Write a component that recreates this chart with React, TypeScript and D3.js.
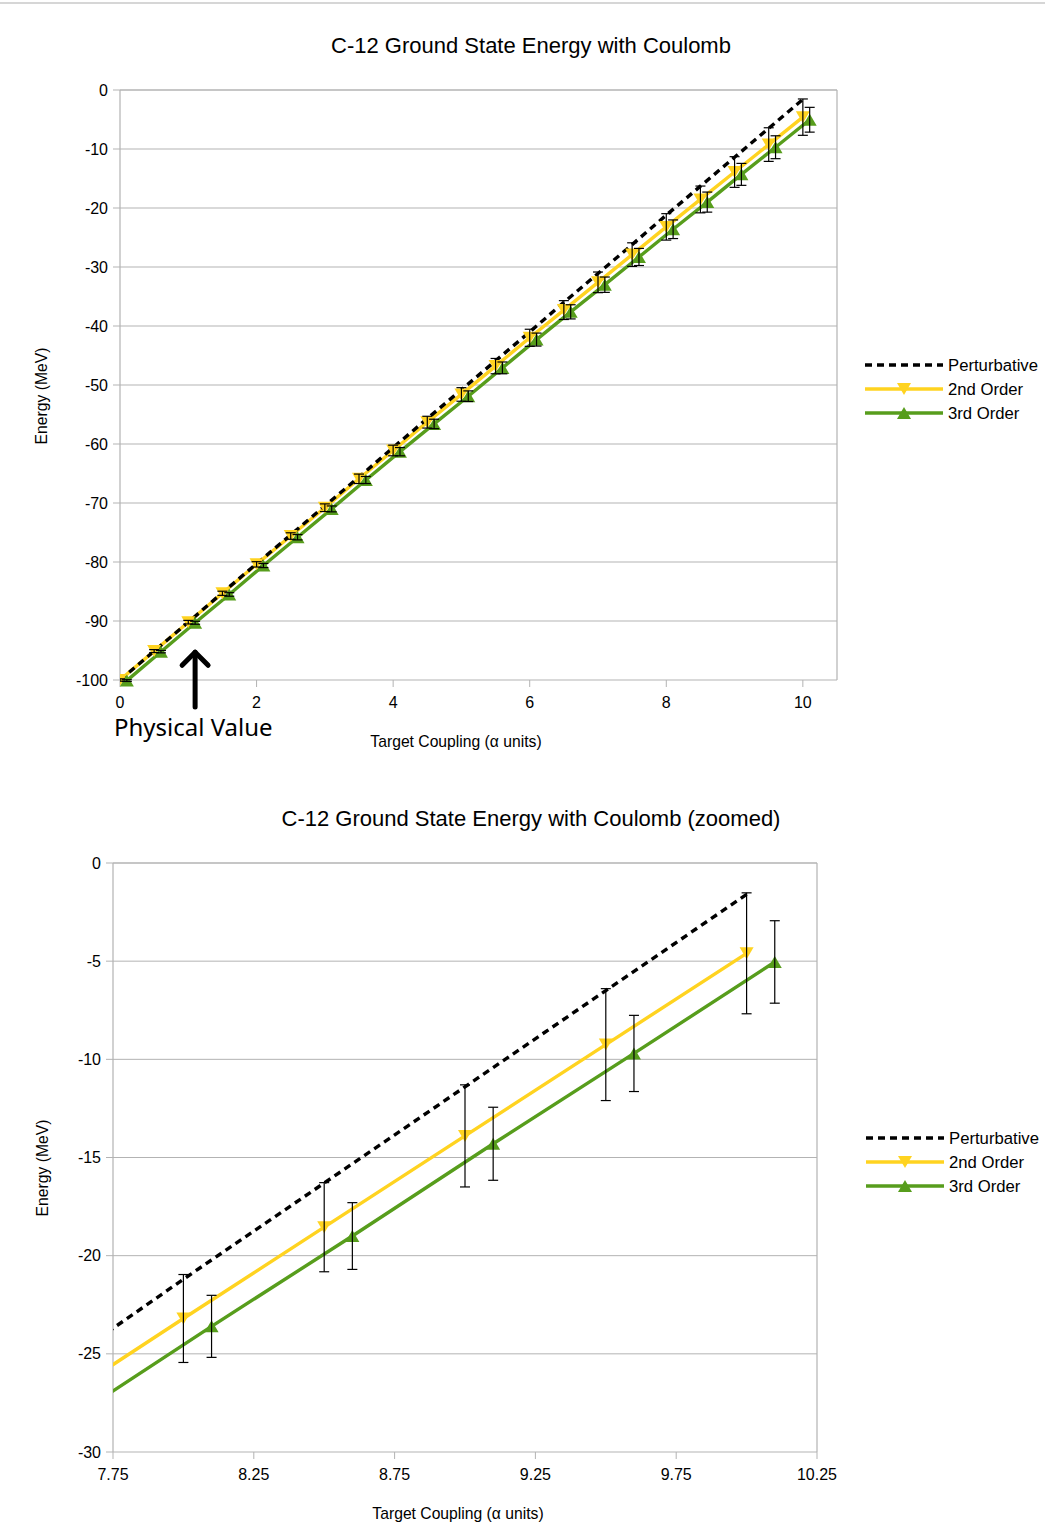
import React from "react";
import * as d3 from "d3";

// ---- data ----
const couplings = [0, 0.5, 1, 1.5, 2, 2.5, 3, 3.5, 4, 4.5, 5, 5.5, 6, 6.5, 7, 7.5, 8, 8.5, 9, 9.5, 10];
const couplings3 = [0.1, 0.6, 1.1, 1.6, 2.1, 2.6, 3.1, 3.6, 4.1, 4.6, 5.1, 5.6, 6.1, 6.6, 7.1, 7.6, 8.1, 8.6, 9.1, 9.6, 10.1];
const perturbative = [-100, -95.1, -90.2, -85.2, -80.3, -75.4, -70.5, -65.6, -60.6, -55.7, -50.8, -45.9, -41.0, -36.0, -31.1, -26.2, -21.2, -16.3, -11.4, -6.5, -1.6];
const secondOrder = [-100, -95.1, -90.2, -85.3, -80.4, -75.6, -70.8, -65.9, -61.1, -56.3, -51.6, -46.8, -42.0, -37.3, -32.6, -27.9, -23.2, -18.55, -13.9, -9.25, -4.6];
const secondErr = [0.2, 0.25, 0.3, 0.35, 0.45, 0.55, 0.65, 0.8, 0.9, 1.0, 1.15, 1.3, 1.45, 1.6, 1.75, 2.0, 2.24, 2.27, 2.6, 2.85, 3.08];
const thirdOrder = [-100.1, -95.2, -90.3, -85.5, -80.6, -75.8, -71.0, -66.1, -61.3, -56.6, -51.9, -47.1, -42.3, -37.6, -33.0, -28.3, -23.6, -19.0, -14.3, -9.7, -5.04];
const thirdErr = [0.15, 0.2, 0.25, 0.3, 0.35, 0.45, 0.5, 0.6, 0.7, 0.8, 0.9, 1.0, 1.1, 1.2, 1.3, 1.45, 1.58, 1.7, 1.86, 1.94, 2.1];

const topXTicks = [0, 2, 4, 6, 8, 10];
const topYTicks = [0, -10, -20, -30, -40, -50, -60, -70, -80, -90, -100];
const zoomXTicks = [7.75, 8.25, 8.75, 9.25, 9.75, 10.25];
const zoomYTicks = [0, -5, -10, -15, -20, -25, -30];

const seriesNames = ["Perturbative", "2nd Order", "3rd Order"];
const physicalValue = 1.1;

const YELLOW = "#ffd320";
const GREEN = "#579d1c";
const GRID = "#b3b3b3";
const FONT = "'Liberation Sans', Arial, sans-serif";

type ChartProps = {
  id: string;
  title: string;
  titleY: number;
  left: number; right: number; top: number; bottom: number;
  xDomain: [number, number];
  yDomain: [number, number];
  xTicks: number[];
  yTicks: number[];
  xFmt: (v: number) => string;
  xTitleX: number;
  yTitleX: number;
  yTitleY: number;
  legendX: number;
  legendY: number;
  annotate?: boolean;
};

function Triangle({ x, y, up, color }: { x: number; y: number; up: boolean; color: string }) {
  const w = 7, h = 6;
  const d = up
    ? `M${x - w},${y + h}L${x + w},${y + h}L${x},${y - h}Z`
    : `M${x - w},${y - h}L${x + w},${y - h}L${x},${y + h}Z`;
  return <path d={d} fill={color} />;
}

function Chart(p: ChartProps) {
  const x = d3.scaleLinear().domain(p.xDomain).range([p.left, p.right]);
  const y = d3.scaleLinear().domain(p.yDomain).range([p.bottom, p.top]);
  const pertPts = couplings.map((c, i) => [c, perturbative[i]] as [number, number]);
  const secPts = couplings.map((c, i) => [c, secondOrder[i]] as [number, number]);
  const thiPts = couplings3.map((c, i) => [c, thirdOrder[i]] as [number, number]);
  const line = d3.line<[number, number]>().x((d) => x(d[0])).y((d) => y(d[1]));
  const inX = (v: number) => v >= p.xDomain[0] - 1e-9 && v <= p.xDomain[1] + 1e-9;
  const clipId = `clip-${p.id}`;
  const cap = 5;

  const errBars = (xs: number[], vals: number[], errs: number[], key: string) =>
    xs.map((c, i) =>
      inX(c) ? (
        <g key={`${key}${i}`} stroke="#000" strokeWidth={1.2}>
          <line x1={x(c)} x2={x(c)} y1={y(vals[i] + errs[i])} y2={y(vals[i] - errs[i])} />
          <line x1={x(c) - cap} x2={x(c) + cap} y1={y(vals[i] + errs[i])} y2={y(vals[i] + errs[i])} />
          <line x1={x(c) - cap} x2={x(c) + cap} y1={y(vals[i] - errs[i])} y2={y(vals[i] - errs[i])} />
        </g>
      ) : null
    );

  return (
    <g>
      <defs>
        <clipPath id={clipId}>
          <rect x={p.left} y={p.top - 20} width={p.right - p.left} height={p.bottom - p.top + 40} />
        </clipPath>
      </defs>
      <text x={531} y={p.titleY} textAnchor="middle" fontFamily={FONT} fontSize={22} fill="#000">
        {p.title}
      </text>
      {/* grid */}
      {p.yTicks.map((t) => (
        <g key={`yt${t}`}>
          <line x1={p.left - 7} x2={p.right} y1={y(t)} y2={y(t)} stroke={GRID} strokeWidth={1} />
          <text x={p.left - 12} y={y(t)} dy="0.35em" textAnchor="end" fontFamily={FONT} fontSize={16} fill="#000">
            {t}
          </text>
        </g>
      ))}
      {p.xTicks.map((t) => (
        <g key={`xt${t}`}>
          <line x1={x(t)} x2={x(t)} y1={p.bottom} y2={p.bottom + 7} stroke={GRID} strokeWidth={1} />
          <text x={x(t)} y={p.bottom + 28} textAnchor="middle" fontFamily={FONT} fontSize={16} fill="#000">
            {p.xFmt(t)}
          </text>
        </g>
      ))}
      <line x1={p.left} x2={p.left} y1={p.top} y2={p.bottom} stroke={GRID} strokeWidth={1.2} />
      <line x1={p.right} x2={p.right} y1={p.top} y2={p.bottom} stroke={GRID} strokeWidth={1.2} />
      <line x1={p.left} x2={p.right} y1={p.top} y2={p.top} stroke={GRID} strokeWidth={1} />

      <text x={p.xTitleX} y={p.bottom + 67} textAnchor="middle" fontFamily={FONT} fontSize={15.7} fill="#000">
        Target Coupling (α units)
      </text>
      <text
        transform={`translate(${p.yTitleX},${p.yTitleY}) rotate(-90)`}
        textAnchor="middle"
        dy="0.35em"
        fontFamily={FONT}
        fontSize={15.7}
        fill="#000"
      >
        Energy (MeV)
      </text>

      <g clipPath={`url(#${clipId})`}>
        <path d={line(thiPts) || ""} fill="none" stroke={GREEN} strokeWidth={3.4} />
        <path d={line(secPts) || ""} fill="none" stroke={YELLOW} strokeWidth={3.4} />
        <path d={line(pertPts) || ""} fill="none" stroke="#000" strokeWidth={3.4} strokeDasharray="7,5" />
        {secPts.filter((d) => inX(d[0])).map((d, i) => (
          <Triangle key={`s${i}`} x={x(d[0])} y={y(d[1])} up={false} color={YELLOW} />
        ))}
        {thiPts.filter((d) => inX(d[0])).map((d, i) => (
          <Triangle key={`t${i}`} x={x(d[0])} y={y(d[1])} up={true} color={GREEN} />
        ))}
        {errBars(couplings, secondOrder, secondErr, "e2")}
        {errBars(couplings3, thirdOrder, thirdErr, "e3")}
      </g>

      {/* legend */}
      {seriesNames.map((name, i) => {
        const ly = p.legendY + i * 24;
        const lx = p.legendX;
        return (
          <g key={name}>
            {i === 0 ? (
              <line x1={lx} x2={lx + 78} y1={ly} y2={ly} stroke="#000" strokeWidth={3.4} strokeDasharray="7,5" />
            ) : (
              <>
                <line x1={lx} x2={lx + 78} y1={ly} y2={ly} stroke={i === 1 ? YELLOW : GREEN} strokeWidth={3.4} />
                <Triangle x={lx + 39} y={ly} up={i === 2} color={i === 1 ? YELLOW : GREEN} />
              </>
            )}
            <text x={lx + 83} y={ly} dy="0.35em" fontFamily={FONT} fontSize={16.7} fill="#000">
              {name}
            </text>
          </g>
        );
      })}

      {p.annotate ? (
        <g>
          <g stroke="#000" strokeWidth={5} strokeLinecap="round" strokeLinejoin="round" fill="none">
            <line x1={x(physicalValue)} x2={x(physicalValue)} y1={y(-95.3)} y2={p.bottom + 27} />
            <path
              d={`M${x(physicalValue) - 13},${y(-95.3) + 13}L${x(physicalValue)},${y(-95.3)}L${x(physicalValue) + 13},${y(-95.3) + 13}`}
            />
          </g>
          <text x={114} y={p.bottom + 56} fontFamily="'Noto Sans', 'Open Sans', sans-serif" fontSize={24} fill="#000">
            Physical Value
          </text>
        </g>
      ) : null}
    </g>
  );
}

export default function App() {
  return (
    <svg
      width={1045}
      height={1525}
      style={{ position: "absolute", left: 0, top: 0, background: "#fff" }}
    >
      <rect x={0} y={0} width={1045} height={1525} fill="#fff" />
      <line x1={0} x2={1045} y1={3} y2={3} stroke="#c8c8c8" strokeWidth={1.5} />
      <Chart
        id="top"
        title="C-12 Ground State Energy with Coulomb"
        titleY={53}
        left={120}
        right={837}
        top={90}
        bottom={680}
        xDomain={[0, 10.5]}
        yDomain={[-100, 0]}
        xTicks={topXTicks}
        yTicks={topYTicks}
        xFmt={(v) => String(v)}
        xTitleX={456}
        yTitleX={41}
        yTitleY={396}
        legendX={865}
        legendY={365}
        annotate
      />
      <Chart
        id="zoom"
        title="C-12 Ground State Energy with Coulomb (zoomed)"
        titleY={826}
        left={113}
        right={817}
        top={863}
        bottom={1452}
        xDomain={[7.75, 10.25]}
        yDomain={[-30, 0]}
        xTicks={zoomXTicks}
        yTicks={zoomYTicks}
        xFmt={(v) => d3.format(".2f")(v)}
        xTitleX={458}
        yTitleX={42}
        yTitleY={1168}
        legendX={866}
        legendY={1138}
      />
    </svg>
  );
}
